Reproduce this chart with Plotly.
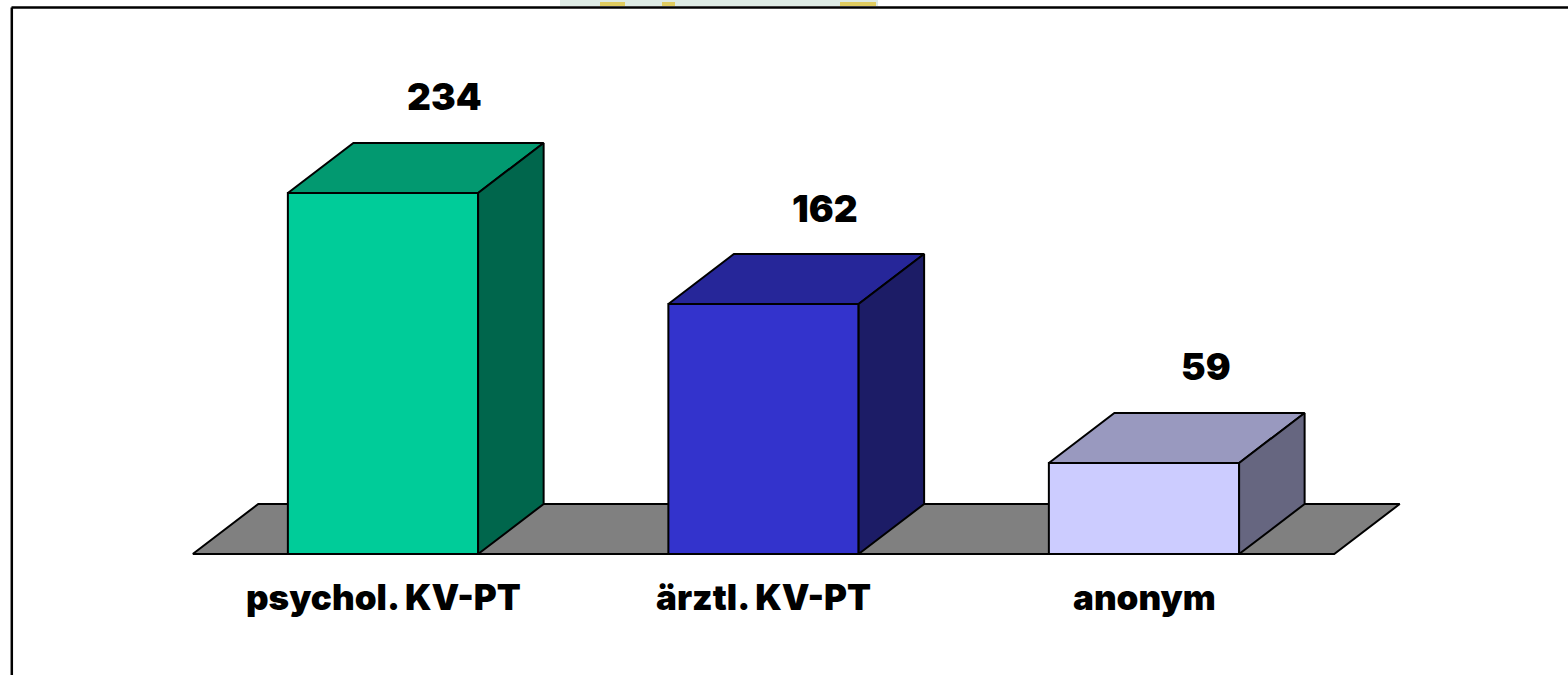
import plotly.graph_objects as go

categories = ["psychol. KV-PT", "ärztl. KV-PT", "anonym"]
values = [234, 162, 59]
front_colors = ["#00CC99", "#3333CC", "#CCCCFF"]
top_colors = ["#029970", "#262699", "#9999BF"]
side_colors = ["#00664C", "#1C1C66", "#666680"]

W, H = 1568, 675
PX_PER_CAT = 380.5
X0_PX = 383.0
PX_PER_UNIT = 1.543
ZERO_PX = 554.0

bar_w = 0.5
dx = 65.5 / PX_PER_CAT
dy = 50.0 / PX_PER_UNIT
n = len(categories)

FONT = "Inter, Arial Black, sans-serif"

fig = go.Figure()
edge = dict(color="black", width=2)


def poly(xs, ys, color):
    fig.add_trace(go.Scatter(x=xs + [xs[0]], y=ys + [ys[0]], mode="lines", fill="toself",
                             fillcolor=color, line=edge, hoverinfo="skip", showlegend=False))


# floor
fl, fr = -0.5, n - 0.5
poly([fl, fr, fr + dx, fl + dx], [0, 0, dy, dy], "#808080")

for i, v in enumerate(values):
    l, r = i - bar_w / 2, i + bar_w / 2
    poly([l, r, r, l], [0, 0, v, v], front_colors[i])
    poly([l, r, r + dx, l + dx], [v, v, v + dy, v + dy], top_colors[i])
    poly([r, r + dx, r + dx, r], [0, dy, v + dy, v], side_colors[i])
    fig.add_annotation(x=i + dx, y=v + dy, text=str(v), showarrow=False, xanchor="center",
                       yanchor="middle", yshift=46, xshift=-4,
                       font=dict(family=FONT, size=37, color="black", weight=900))
    fig.add_annotation(x=i, y=0, text=categories[i], showarrow=False, xanchor="center",
                       yanchor="middle", yshift=-43,
                       font=dict(family=FONT, size=35, color="black", weight=900))

# decorative frame and top band
fig.add_shape(type="rect", xref="paper", yref="paper", x0=560 / W, x1=878 / W, y0=1 - 6 / H, y1=1,
              fillcolor="#DDEAE4", line=dict(width=0), layer="below")
for a, b in [(600, 625), (662, 675), (840, 876)]:
    fig.add_shape(type="rect", xref="paper", yref="paper", x0=a / W, x1=b / W, y0=1 - 6 / H, y1=1 - 2 / H,
                  fillcolor="#E0CC60", line=dict(width=0), layer="below")
fig.add_shape(type="line", xref="paper", yref="paper", x0=11.5 / W, x1=1, y0=1 - 7.5 / H, y1=1 - 7.5 / H,
              line=dict(color="black", width=2.5))
fig.add_shape(type="line", xref="paper", yref="paper", x0=11.8 / W, x1=11.8 / W, y0=0, y1=1 - 7.5 / H,
              line=dict(color="black", width=2.5))

fig.update_layout(
    width=W, height=H,
    margin=dict(l=0, r=0, t=0, b=0),
    paper_bgcolor="white", plot_bgcolor="white",
    xaxis=dict(range=[-X0_PX / PX_PER_CAT, (W - X0_PX) / PX_PER_CAT], visible=False, fixedrange=True),
    yaxis=dict(range=[(ZERO_PX - H) / PX_PER_UNIT, ZERO_PX / PX_PER_UNIT], visible=False, fixedrange=True),
    showlegend=False,
)

fig.write_html("out.html", config={"displayModeBar": False},
               post_script="document.body.style.margin='0';document.body.style.overflow='hidden';")
